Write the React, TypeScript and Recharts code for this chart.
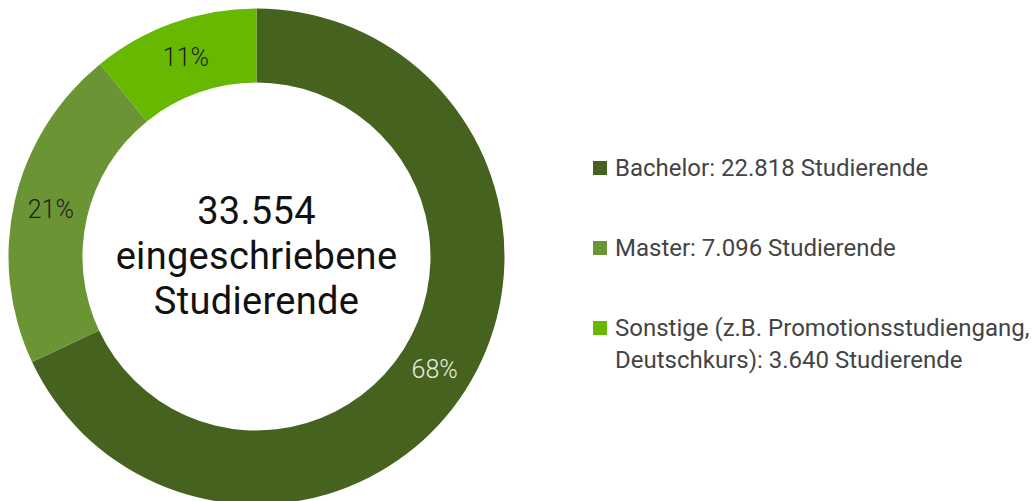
import React from 'react';
import { PieChart, Pie, Cell, Legend } from 'recharts';

const categories = ['Bachelor', 'Master', 'Sonstige (z.B. Promotionsstudiengang, Deutschkurs)'];
const legendLines = [
  ['Bachelor: 22.818 Studierende'],
  ['Master: 7.096 Studierende'],
  ['Sonstige (z.B. Promotionsstudiengang,', 'Deutschkurs): 3.640 Studierende'],
];
const students = [22818, 7096, 3640];
const centerLines = ['33.554', 'eingeschriebene', 'Studierende'];

const COLORS = ['#45621f', '#6b9434', '#67b800'];
const LABEL_COLORS = ['#e8ece2', '#1e1e1e', '#1e1e1e'];
const FONT = 'Roboto, "Noto Sans", sans-serif';
const RADIAN = Math.PI / 180;
const CX = 256.5;
const CY = 256.5;

const chartData = categories.map((name, i) => ({ name, value: students[i] }));

function renderPercent(props: any) {
  const { cx, cy, midAngle, innerRadius, outerRadius, percent, index } = props;
  const r = (innerRadius + outerRadius) / 2;
  const x = cx + r * Math.cos(-midAngle * RADIAN);
  const y = cy + r * Math.sin(-midAngle * RADIAN);
  return (
    <text
      x={x}
      y={y}
      fill={LABEL_COLORS[index]}
      textAnchor="middle"
      dominantBaseline="central"
      fontSize={25}
      fontFamily={FONT}
      fontWeight={300}
    >
      {`${Math.round(percent * 100)}%`}
    </text>
  );
}

function LegendList() {
  return (
    <div style={{ fontFamily: FONT, fontSize: 24, color: '#444', lineHeight: '32px' }}>
      {legendLines.map((lines, i) => (
        <div key={i} style={{ marginTop: i === 0 ? 0 : 48, position: 'relative', paddingLeft: 22 }}>
          <span
            style={{
              position: 'absolute',
              left: 0,
              top: 9,
              width: 14,
              height: 14,
              background: COLORS[i],
            }}
          />
          {lines.map((l) => (
            <div key={l} style={{ whiteSpace: 'nowrap' }}>{l}</div>
          ))}
        </div>
      ))}
    </div>
  );
}

export default function App() {
  return (
    <div style={{ position: 'absolute', left: 0, top: 0, width: 1036, height: 501, overflow: 'hidden', background: '#fff' }}>
      <PieChart width={1036} height={501} margin={{ top: 0, right: 0, bottom: 0, left: 0 }}>
        <Pie
          data={chartData}
          dataKey="value"
          nameKey="name"
          cx={CX}
          cy={CY}
          innerRadius={174}
          outerRadius={248}
          startAngle={90}
          endAngle={-270}
          stroke="none"
          label={renderPercent}
          labelLine={false}
          isAnimationActive={false}
        >
          {chartData.map((d, i) => (
            <Cell key={d.name} fill={COLORS[i]} />
          ))}
        </Pie>
        <Legend
          layout="vertical"
          content={LegendList}
          wrapperStyle={{ position: 'absolute', left: 593, top: 152, width: 443 }}
        />
      </PieChart>
      <div
        style={{
          position: 'absolute',
          left: CX - 160,
          width: 320,
          top: 189,
          textAlign: 'center',
          fontFamily: FONT,
          fontSize: 38,
          letterSpacing: 0.3,
          lineHeight: '45px',
          color: '#111',
          pointerEvents: 'none',
        }}
      >
        {centerLines.map((l) => (
          <div key={l}>{l}</div>
        ))}
      </div>
    </div>
  );
}
